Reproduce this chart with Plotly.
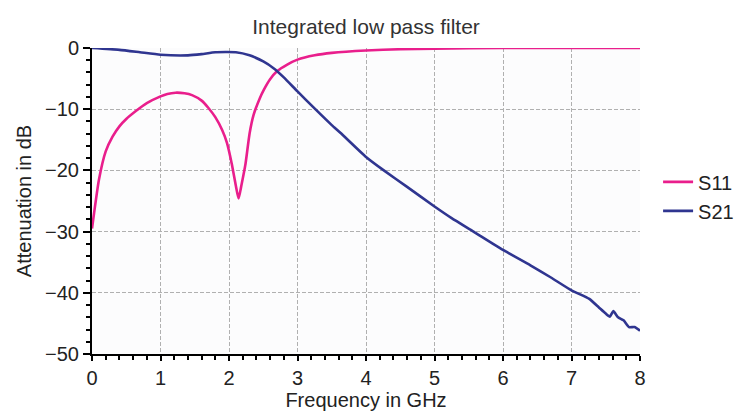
import plotly.graph_objects as go

# ---- data ----
freq_s11 = [0.0, 0.03, 0.1, 0.2, 0.3, 0.4, 0.5, 0.64, 0.8, 1.0, 1.1, 1.22, 1.35, 1.46,
            1.6, 1.7, 1.8, 1.9, 1.97, 2.04, 2.1, 2.14, 2.18, 2.24, 2.3, 2.36, 2.45,
            2.51, 2.6, 2.7, 2.85, 3.0, 3.25, 3.5, 4.0, 4.5, 5.0, 6.0, 7.0, 8.0]
s11_db = [-29.5, -27.0, -21.6, -16.9, -14.5, -12.8, -11.6, -10.3, -9.0, -7.9, -7.5, -7.3,
          -7.4, -7.7, -8.6, -9.8, -11.3, -13.4, -15.5, -18.9, -22.5, -24.6, -22.5, -19.0,
          -14.0, -10.9, -8.2, -6.8, -5.1, -3.8, -2.7, -1.9, -1.2, -0.8, -0.4, -0.2, -0.1,
          0.0, 0.0, 0.0]

freq_s21 = [0.0, 0.4, 0.7, 1.0, 1.4, 1.6, 1.8, 2.1, 2.3, 2.5, 2.65, 2.8, 3.0, 3.26, 3.5,
            3.63, 4.0, 4.26, 4.6, 5.0, 5.25, 5.57, 6.0, 6.4, 6.7, 7.0, 7.26, 7.4,
            7.5, 7.56, 7.61, 7.68, 7.76, 7.84, 7.92, 8.0]
s21_db = [0.0, -0.3, -0.7, -1.1, -1.2, -1.0, -0.7, -0.7, -1.2, -2.2, -3.3, -4.8, -7.1,
          -10.0, -12.6, -13.9, -17.8, -20.0, -22.7, -25.9, -27.8, -30.0, -33.0, -35.5,
          -37.5, -39.6, -41.0, -42.4, -43.4, -43.9, -43.0, -44.0, -44.5, -45.6, -45.6,
          -46.2]

x_ticks = [0, 1, 2, 3, 4, 5, 6, 7, 8]
y_ticks = [0, -10, -20, -30, -40, -50]

PINK = "#e91e8c"
BLUE = "#2f3590"
FONT = "Liberation Sans, Arial, sans-serif"

fig = go.Figure()
fig.add_trace(go.Scatter(x=freq_s11, y=s11_db, name="S11", mode="lines",
                         line=dict(color=PINK, width=2.6, shape="spline", smoothing=0.5)))
fig.add_trace(go.Scatter(x=freq_s21, y=s21_db, name="S21", mode="lines",
                         line=dict(color=BLUE, width=2.6, shape="spline", smoothing=0.5)))

grid = dict(showgrid=True, gridcolor="#b0b0b0", gridwidth=1, griddash="4px,2px")

fig.update_layout(
    width=735, height=412,
    margin=dict(l=92, r=95, t=48, b=58, autoexpand=False),
    paper_bgcolor="white",
    plot_bgcolor="#fcfcfd",
    font=dict(family=FONT, size=20, color="#222222"),
    title=dict(text="Integrated low pass filter", x=0.5, xref="paper", xanchor="center",
               y=0.935, yref="container", yanchor="middle",
               font=dict(family=FONT, size=21, color="#333333")),
    showlegend=True,
    legend=dict(x=1.033, xanchor="left", y=0.515, yanchor="middle",
                bgcolor="rgba(0,0,0,0)", font=dict(size=20, color="#222222"),
                itemwidth=30, tracegroupgap=0),
    xaxis=dict(range=[0, 8], tickvals=x_ticks, ticks="outside", ticklen=5, tickwidth=2,
               tickcolor="black", showline=True, linewidth=2, linecolor="black",
               zeroline=False, automargin=False,
               minor=dict(dtick=0.2, ticks="outside", ticklen=4, tickwidth=2,
                          tickcolor="black", showgrid=False),
               title=dict(text="Frequency in GHz", standoff=0, font=dict(size=20)),
               **grid),
    yaxis=dict(range=[-50, 0], tickvals=y_ticks, ticks="outside", ticklen=7, tickwidth=2,
               tickcolor="black", showline=True, linewidth=2, linecolor="black",
               zeroline=False, automargin=False,
               minor=dict(dtick=2, ticks="outside", ticklen=4, tickwidth=2,
                          tickcolor="black", showgrid=False),
               title=dict(text="Attenuation in dB", standoff=8, font=dict(size=20)),
               **grid),
    xaxis2=dict(overlaying="x", anchor="y", side="bottom", range=[0, 8], tickvals=x_ticks,
                ticks="inside", ticklen=4, tickwidth=2, tickcolor="black",
                showticklabels=False, showgrid=False, zeroline=False, showline=False,
                minor=dict(dtick=0.2, ticks="inside", ticklen=4, tickwidth=2,
                           tickcolor="black", showgrid=False)),
    yaxis2=dict(overlaying="y", anchor="x", side="left", range=[-50, 0], tickvals=y_ticks,
                ticks="inside", ticklen=4, tickwidth=2, tickcolor="black",
                showticklabels=False, showgrid=False, zeroline=False, showline=False,
                minor=dict(dtick=2, ticks="inside", ticklen=4, tickwidth=2,
                           tickcolor="black", showgrid=False)),
)

fig.write_html("out.html", config={"displayModeBar": False},
               post_script="document.body.style.margin='0px';document.body.style.padding='0px';")
